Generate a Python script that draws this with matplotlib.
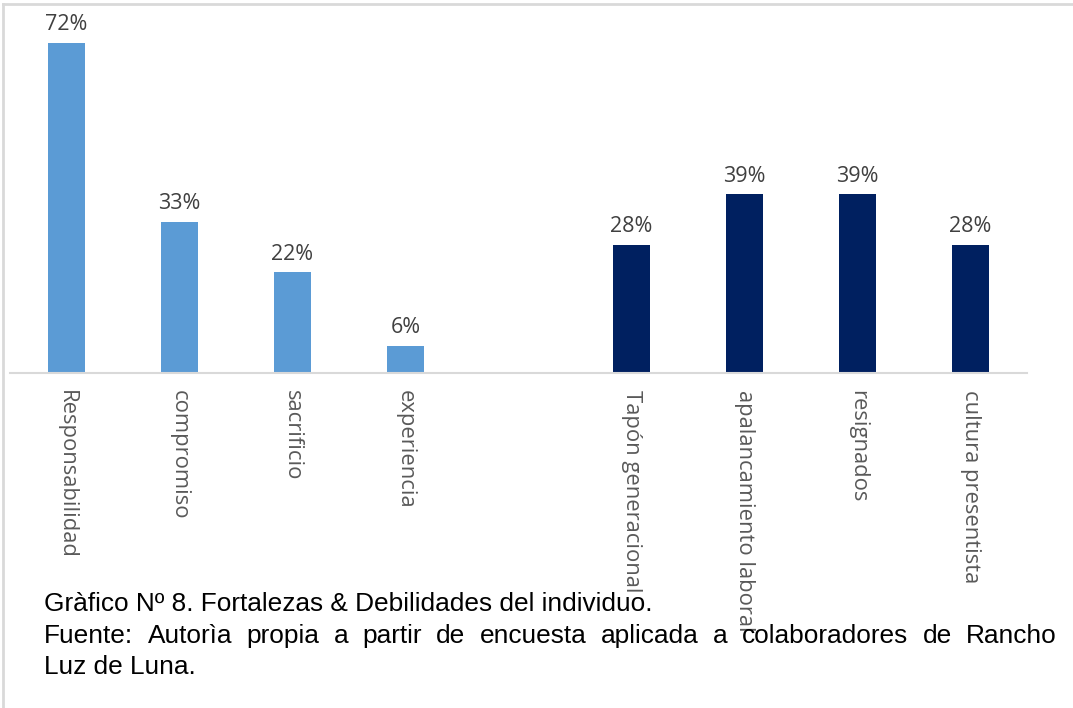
import matplotlib
matplotlib.use("Agg")
import matplotlib.pyplot as plt
from matplotlib.lines import Line2D

# Strengths and weaknesses, in percent of respondents
fortalezas = ["Responsabilidad", "compromiso", "sacrificio", "experiencia"]
fortalezas_pct = [72, 33, 22, 6]
debilidades = ["Tapón generacional", "apalancamiento laboral", "resignados", "cultura presentista"]
debilidades_pct = [28, 39, 39, 28]

caption_title = "Gràfico Nº 8. Fortalezas & Debilidades del individuo."
caption_source = "Fuente:  Autorìa propia a partir de encuesta aplicada a colaboradores  de Rancho"
caption_end = "Luz de Luna."

W, H = 1073, 708
fig = plt.figure(figsize=(W / 100, H / 100), dpi=100)
fig.patch.set_facecolor("white")

# Axes placed in pixel terms: baseline at y=373, one percent ~4.58 px
ymax = 80
px_per_pct = 330 / 72
base_px = 373
top_px = base_px - ymax * px_per_pct
left_px, right_px = 10, 1027
ax = fig.add_axes([left_px / W, 1 - base_px / H, (right_px - left_px) / W,
                   (base_px - top_px) / H])

label_font = ["Open Sans", "DejaVu Sans"]
blue, navy = "#5B9BD5", "#002060"
width = 0.32

x_f = list(range(len(fortalezas)))
x_d = [len(fortalezas) + 1 + i for i in range(len(debilidades))]

bars_f = ax.bar(x_f, fortalezas_pct, width=width, color=blue, zorder=2)
bars_d = ax.bar(x_d, debilidades_pct, width=width, color=navy, zorder=2)

for bars, vals in ((bars_f, fortalezas_pct), (bars_d, debilidades_pct)):
    for b, v in zip(bars, vals):
        ax.annotate(f"{v}%", (b.get_x() + b.get_width() / 2, v),
                    xytext=(0, 5.5), textcoords="offset points",
                    ha="center", va="bottom", fontsize=15.5,
                    color="#404040", family=label_font)

ax.set_xlim(-0.5, len(fortalezas) + len(debilidades) + 0.5)
ax.set_ylim(0, ymax)
ax.set_xticks(x_f + x_d)
ax.set_xticklabels(fortalezas + debilidades, rotation=-90, ha="center",
                   va="top", fontsize=15.8, color="#595959", family=label_font)
ax.tick_params(axis="x", length=0, pad=12)
ax.set_yticks([])
for side in ("top", "right", "left"):
    ax.spines[side].set_visible(False)
ax.spines["bottom"].set_color("#d9d9d9")
ax.spines["bottom"].set_linewidth(1.5)
ax.spines["bottom"].set_zorder(3)

# Light frame along the top and left edges
fig.add_artist(Line2D([3 / W, 1], [1 - 4 / H, 1 - 4 / H], color="#d9d9d9", lw=2,
                      transform=fig.transFigure))
fig.add_artist(Line2D([3 / W, 3 / W], [0, 1 - 4 / H], color="#d9d9d9", lw=2,
                      transform=fig.transFigure))

# Caption below the chart
cap_font = ["Liberation Sans", "DejaVu Sans"]
cap_size = 18.9
x0, x1 = 44, 1057
fig.text(x0 / W, 1 - 604 / H, caption_title, ha="left", va="center",
         fontsize=cap_size, family=cap_font, color="black")
fig.text(x0 / W, 1 - 667 / H, caption_end, ha="left", va="center",
         fontsize=cap_size, family=cap_font, color="black")

# Justified source line: spread words across the full text width
words = caption_source.split()
renderer = fig.canvas.get_renderer()
widths = []
for w in words:
    t = fig.text(0, 0, w, fontsize=cap_size, family=cap_font)
    widths.append(t.get_window_extent(renderer).width)
    t.remove()
gap = ((x1 - x0) - sum(widths)) / (len(words) - 1)
xpos = x0
for w, wd in zip(words, widths):
    fig.text(xpos / W, 1 - 636 / H, w, ha="left", va="center",
             fontsize=cap_size, family=cap_font, color="black")
    xpos += wd + gap

fig.savefig("out.png", dpi=100, facecolor="white")
